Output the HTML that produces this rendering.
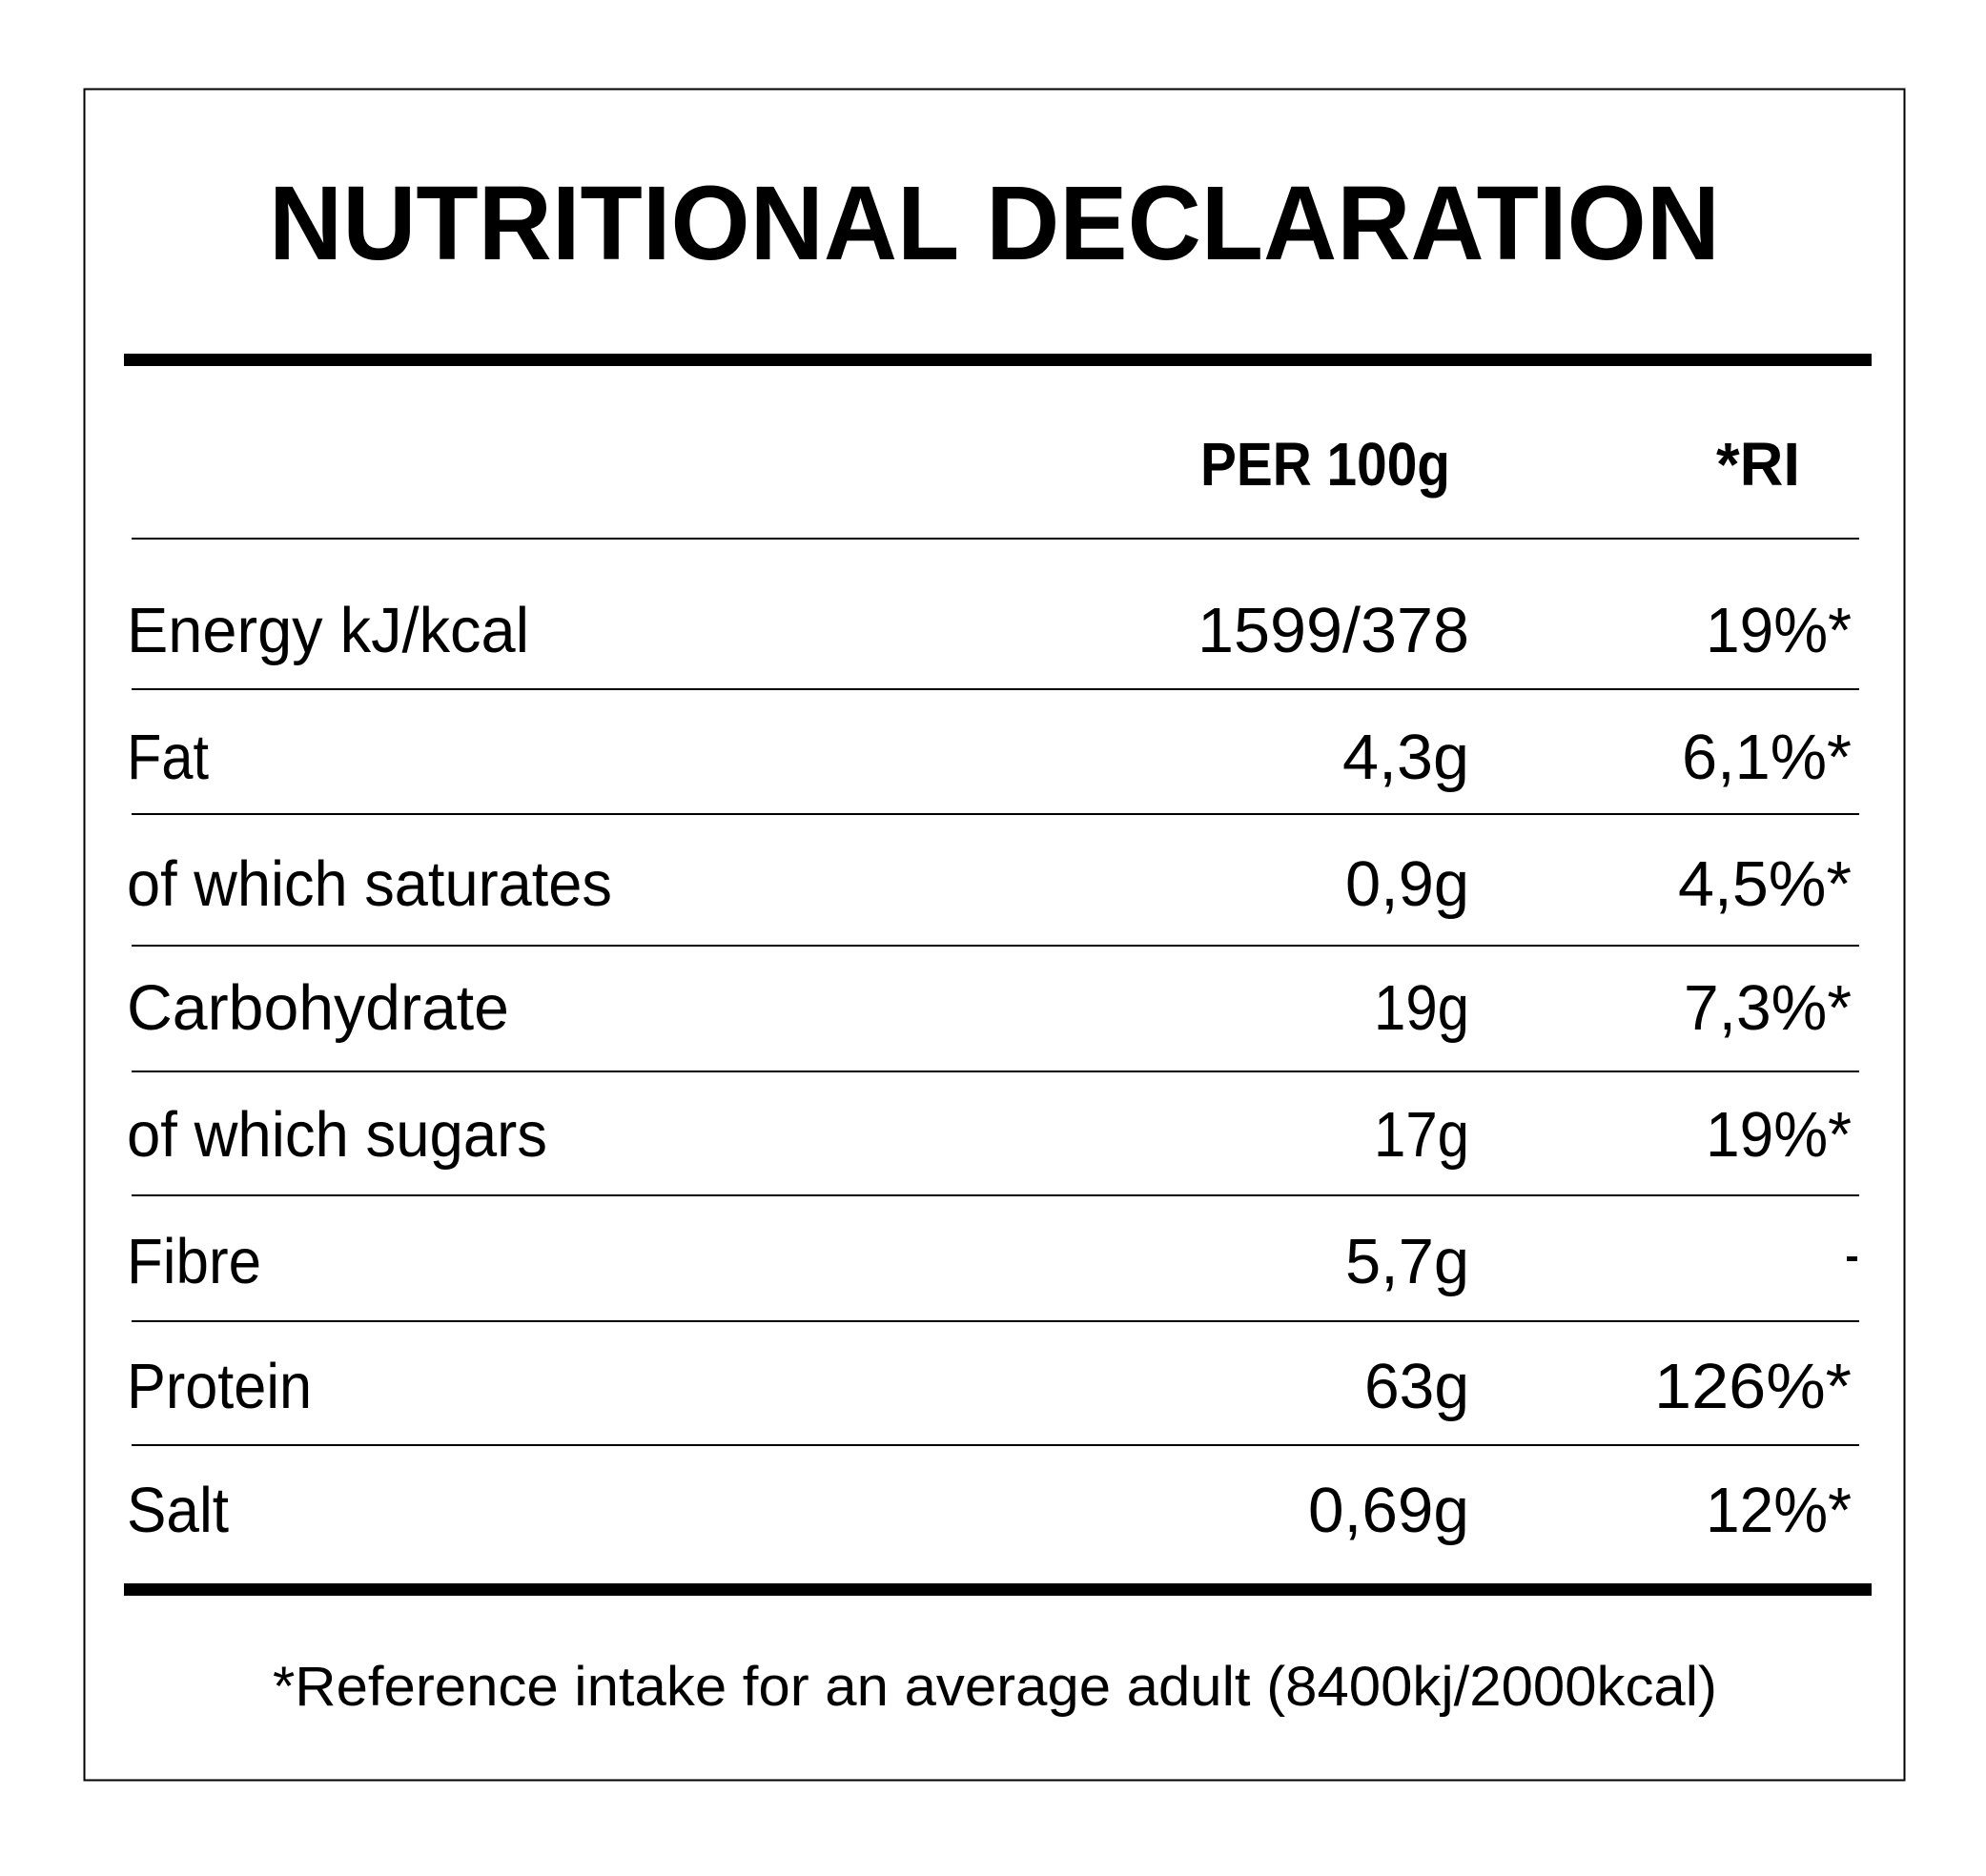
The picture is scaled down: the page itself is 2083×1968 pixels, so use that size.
<!DOCTYPE html>
<html><head><meta charset="utf-8"><style>html,body{margin:0;padding:0;background:#fff}svg{display:block}</style></head>
<body>
<svg width="2083" height="1968" viewBox="0 0 2083 1968" xmlns="http://www.w3.org/2000/svg" font-family="Liberation Sans, sans-serif" fill="#000">
<rect x="0" y="0" width="2083" height="1968" fill="#fff"/>
<rect x="88.5" y="93.5" width="1909" height="1774" fill="none" stroke="#000" stroke-width="2"/>
<text x="282" y="272" font-size="110" font-weight="bold" textLength="1522" lengthAdjust="spacingAndGlyphs">NUTRITIONAL DECLARATION</text>
<rect x="130" y="371" width="1833" height="13"/>
<text x="1259" y="509" font-size="64" font-weight="bold" textLength="262" lengthAdjust="spacingAndGlyphs">PER 100g</text>
<text x="1800" y="509" font-size="64" font-weight="bold" textLength="88" lengthAdjust="spacingAndGlyphs">*RI</text>
<g stroke="#000" stroke-width="2">
<line x1="138" y1="565" x2="1950" y2="565"/>
<line x1="138" y1="723" x2="1950" y2="723"/>
<line x1="138" y1="854" x2="1950" y2="854"/>
<line x1="138" y1="992" x2="1950" y2="992"/>
<line x1="138" y1="1124" x2="1950" y2="1124"/>
<line x1="138" y1="1254" x2="1950" y2="1254"/>
<line x1="138" y1="1386" x2="1950" y2="1386"/>
<line x1="138" y1="1516" x2="1950" y2="1516"/>
</g>
<g font-size="67">
<text x="133" y="684" textLength="422" lengthAdjust="spacingAndGlyphs">Energy kJ/kcal</text>
<text x="133" y="817" textLength="86" lengthAdjust="spacingAndGlyphs">Fat</text>
<text x="133" y="950" textLength="509" lengthAdjust="spacingAndGlyphs">of which saturates</text>
<text x="133" y="1080" textLength="401" lengthAdjust="spacingAndGlyphs">Carbohydrate</text>
<text x="133" y="1213" textLength="441" lengthAdjust="spacingAndGlyphs">of which sugars</text>
<text x="133" y="1346" textLength="141" lengthAdjust="spacingAndGlyphs">Fibre</text>
<text x="133" y="1477" textLength="194" lengthAdjust="spacingAndGlyphs">Protein</text>
<text x="133" y="1607" textLength="107" lengthAdjust="spacingAndGlyphs">Salt</text>

<text x="1256" y="684" textLength="285" lengthAdjust="spacingAndGlyphs">1599/378</text>
<text x="1408" y="817" textLength="133" lengthAdjust="spacingAndGlyphs">4,3g</text>
<text x="1411" y="950" textLength="130" lengthAdjust="spacingAndGlyphs">0,9g</text>
<text x="1441" y="1080" textLength="100" lengthAdjust="spacingAndGlyphs">19g</text>
<text x="1441" y="1213" textLength="100" lengthAdjust="spacingAndGlyphs">17g</text>
<text x="1411" y="1346" textLength="130" lengthAdjust="spacingAndGlyphs">5,7g</text>
<text x="1431" y="1477" textLength="110" lengthAdjust="spacingAndGlyphs">63g</text>
<text x="1372" y="1607" textLength="169" lengthAdjust="spacingAndGlyphs">0,69g</text>

<text x="1789" y="684" textLength="153" lengthAdjust="spacingAndGlyphs">19%*</text>
<text x="1764" y="817" textLength="178" lengthAdjust="spacingAndGlyphs">6,1%*</text>
<text x="1760" y="950" textLength="182" lengthAdjust="spacingAndGlyphs">4,5%*</text>
<text x="1766" y="1080" textLength="176" lengthAdjust="spacingAndGlyphs">7,3%*</text>
<text x="1789" y="1213" textLength="153" lengthAdjust="spacingAndGlyphs">19%*</text>
<text x="1735" y="1477" textLength="207" lengthAdjust="spacingAndGlyphs">126%*</text>
<text x="1789" y="1607" textLength="153" lengthAdjust="spacingAndGlyphs">12%*</text>
</g>
<rect x="1937" y="1318" width="11" height="5"/>
<rect x="130" y="1661" width="1833" height="13"/>
<text x="286" y="1789" font-size="58" textLength="1515" lengthAdjust="spacingAndGlyphs">*Reference intake for an average adult (8400kj/2000kcal)</text>
</svg>
</body></html>
